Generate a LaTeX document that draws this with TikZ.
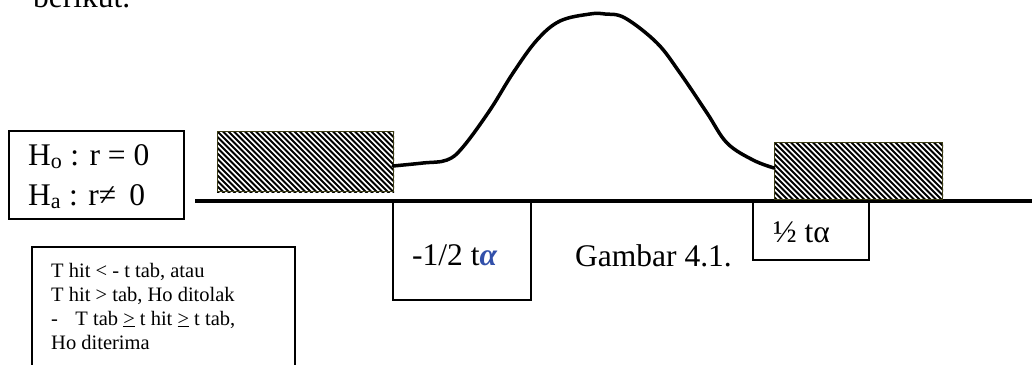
\documentclass[tikz,border=0pt]{standalone}
\usepackage{fontspec}
\setmainfont{Liberation Serif}
\definecolor{hatchedge}{RGB}{60,60,20}
\definecolor{alphablue}{RGB}{50,80,170}
\tikzset{
  frame/.style={draw=black, line width=1.6pt, inner sep=0pt},
  hatchbox/.style={draw=hatchedge, line width=1pt, inner sep=0pt},
  bigtxt/.style={inner sep=0pt, anchor=base west, font=\fontsize{31.5}{36}\selectfont},
  smalltxt/.style={inner sep=0pt, anchor=base west, font=\fontsize{20.5}{24}\selectfont},
  curveline/.style={line width=3.5pt, line cap=round, line join=round},
  axisline/.style={line width=3.5pt},
  stripe/.style={line width=2.1pt}
}
\begin{document}
\begin{tikzpicture}[x=1pt,y=-1pt]
\useasboundingbox (0,0) rectangle (1032,364);

% top text
\node[bigtxt] (berikut) at (33,7) {berikut.};

% hypothesis box
\node[frame, minimum width=175pt, minimum height=88pt, anchor=north west] (hyp) at (8,130) {};
\node[bigtxt] (h0) at (28,165) {H\textsubscript{o} : r = 0};
\node[bigtxt] (ha) at (28,205) {H\textsubscript{a} : r≠ \,0};

% axis
\coordinate (axstart) at (195,201);
\coordinate (axend) at (1032,201);
\draw[axisline] (axstart) -- (axend);

% hatched boxes
\node[hatchbox, minimum width=176pt, minimum height=60pt, anchor=north west] (lhatch) at (217,131) {};
\begin{scope}
  \clip (lhatch.south west) rectangle (lhatch.north east);
  \foreach \k in {-66,-60.5,...,180} \draw[stripe] (217+\k,131) -- ++(66,66);
\end{scope}
\node[hatchbox, minimum width=176pt, minimum height=60pt, anchor=north west] at (217,131) {};

\node[hatchbox, minimum width=168pt, minimum height=57pt, anchor=north west] (rhatch) at (774,142) {};
\begin{scope}
  \clip (rhatch.south west) rectangle (rhatch.north east);
  \foreach \k in {-66,-60.5,...,172} \draw[stripe] (774+\k,142) -- ++(66,66);
\end{scope}
\node[hatchbox, minimum width=168pt, minimum height=57pt, anchor=north west] at (774,142) {};

% curve
\draw[curveline] plot[smooth, tension=0.6] coordinates {
  (393,166) (423,163) (447,160) (463,147) (490,110) (513,73) (537,40)
  (560,21) (590,14) (605,14) (625,18) (657,43) (680,73) (707,113)
  (727,143) (753,160) (774,168)};

% lower boxes
\node[frame, minimum width=138pt, minimum height=98pt, anchor=north west] (lbox) at (392,201) {};
\node[bigtxt] (ltxt) at (412,265) {-1/2 t{\color{alphablue}\bfseries\itshape α}};

\node[frame, minimum width=116pt, minimum height=58pt, anchor=north west] (rbox) at (752,201) {};
\node[bigtxt] (rtxt) at (773,242) {½ tα};

\node[bigtxt] (caption) at (575,266) {Gambar 4.1.};

% rules box
\node[frame, minimum width=263pt, minimum height=140pt, anchor=north west] (rules) at (31,246) {};
\node[smalltxt] (rule1) at (51,277) {T hit < - t tab, atau};
\node[smalltxt] (rule2) at (51,301) {T hit > tab, Ho ditolak};
\node[smalltxt] (rule3) at (51,325) {-\hspace{0.85em}T tab \underline{>} t hit \underline{>} t tab,};
\node[smalltxt] (rule4) at (51,349) {Ho diterima};
\end{tikzpicture}
\end{document}
